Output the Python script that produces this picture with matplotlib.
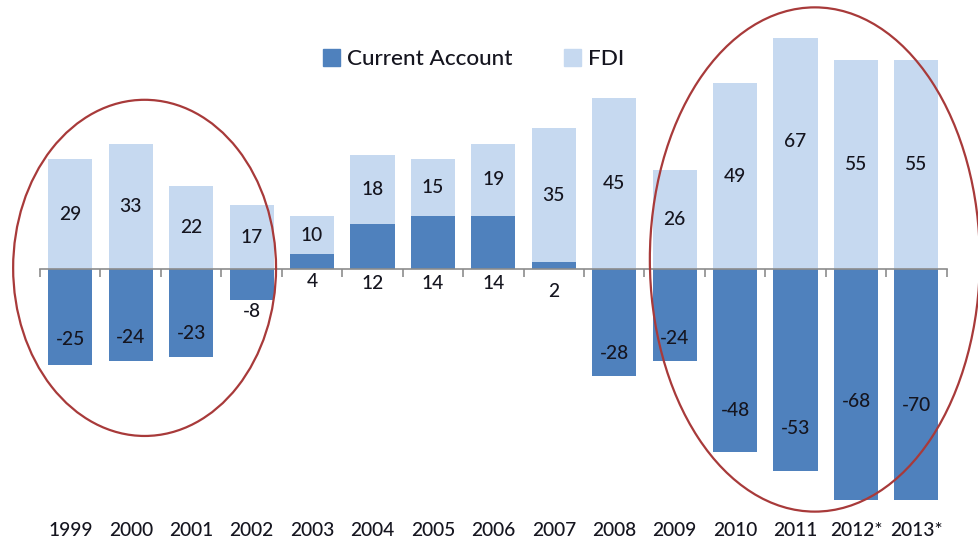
import numpy as np
import matplotlib
matplotlib.use("Agg")
import matplotlib.pyplot as plt
from matplotlib.patches import Ellipse, Patch
import matplotlib.transforms as mtransforms

# data
years = ["1999", "2000", "2001", "2002", "2003", "2004", "2005", "2006",
         "2007", "2008", "2009", "2010", "2011", "2012*", "2013*"]
current_account = [-25, -24, -23, -8, 4, 12, 14, 14, 2, -28, -24, -48, -53, -68, -70]
fdi = [29, 33, 22, 17, 10, 18, 15, 19, 35, 45, 26, 49, 67, 55, 55]

# where the current account labels sit (they are not centred in the original)
ca_label_y = [-18.5, -17.9, -16.7, -11, -3.2, -3.6, -3.6, -3.6, -5.8,
              -22, -18, -36.9, -41.7, -34.7, -35.6]

dark = "#4f81bd"
light = "#c6d9f0"
txt = "#15151f"
red = "#a83a3a"

plt.rcParams['font.family'] = ['Lato', 'DejaVu Sans']

fig = plt.figure(figsize=(9.79, 5.42), dpi=100)
ax = fig.add_axes([0.0409, 0.0775, 0.926, 0.853])

x = np.arange(len(years))
ca = np.array(current_account)
fd = np.array(fdi)
base = np.where(ca > 0, ca, 0)

w = 0.73
ax.bar(x, ca, width=w, color=dark, zorder=2)
ax.bar(x, fd, width=w, bottom=base, color=light, zorder=2)

ax.set_xlim(-0.5, len(years) - 0.5)
ax.set_ylim(-60.5, 60.8)

# zero axis with tick marks between categories
for s in ["top", "right", "left"]:
    ax.spines[s].set_visible(False)
ax.spines["bottom"].set_position(("data", 0))
ax.spines["bottom"].set_color("#8c8c8c")
ax.spines["bottom"].set_linewidth(1.2)
ax.spines["bottom"].set_zorder(3)
ax.set_yticks([])
ax.set_xticks([])
ax.set_xticks(np.arange(-0.5, len(years)), minor=True)
ax.tick_params(axis="x", which="minor", length=6, width=1.2, color="#8c8c8c",
               direction="out")

fs = 13.8
trans = mtransforms.blended_transform_factory(ax.transData, ax.transAxes)
for i, yr in enumerate(years):
    ax.text(i, -0.065, yr, transform=trans, ha="center", va="center",
            fontsize=fs, color=txt, fontweight="medium")

# value labels
for i in range(len(years)):
    ax.text(i, base[i] + fd[i] / 2, str(fd[i]), ha="center", va="center",
            fontsize=fs, color=txt, zorder=4, fontweight="medium")
    ax.text(i, ca_label_y[i], str(ca[i]), ha="center", va="center",
            fontsize=fs, color=txt, zorder=4, fontweight="medium")

# highlight ellipses
e1 = Ellipse((1.23, 0.4), 4.35, 88.2, fill=False, edgecolor=red, lw=1.6,
             clip_on=False, zorder=5)
e2 = Ellipse((12.32, 2.6), 5.46, 132.3, fill=False, edgecolor=red, lw=1.6,
             clip_on=False, zorder=5)
ax.add_patch(e1)
ax.add_patch(e2)

handles = [Patch(color=dark, label="Current Account"), Patch(color=light, label="FDI")]
fig.legend(handles=handles, loc="center", bbox_to_anchor=(0.484, 0.891), ncol=2,
           frameon=False, prop={"size": 16.2, "weight": "medium"},
           handlelength=0.75, handleheight=0.75, handletextpad=0.3,
           columnspacing=2.3, labelcolor=txt)

fig.savefig("out.png", dpi=100)
